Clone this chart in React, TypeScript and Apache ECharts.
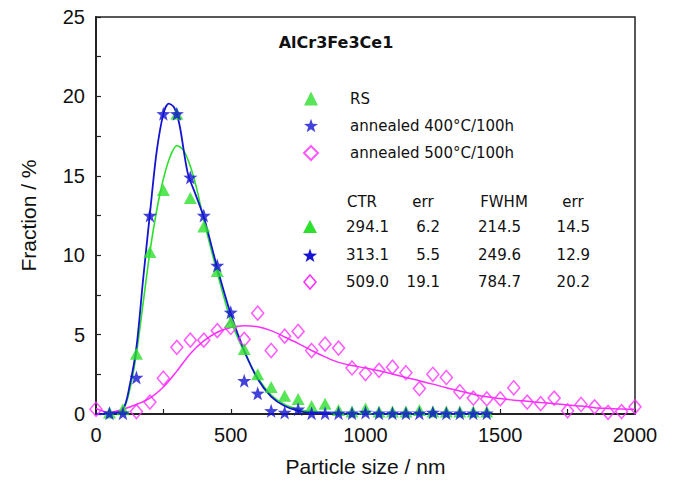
import React, { useEffect, useRef } from "react";
import * as echarts from "echarts";

// ---- data ----
const scatterSizes = [50, 100, 150, 200, 250, 300, 350, 400, 450, 500, 550, 600, 650, 700, 750, 800, 850, 900, 950, 1000, 1050, 1100, 1150, 1200, 1250, 1300, 1350, 1400, 1450];
const rsFraction = [0.1, 0.3, 3.8, 10.2, 14.1, 18.9, 13.6, 11.8, 9.0, 5.8, 4.1, 2.5, 1.7, 1.15, 0.95, 0.5, 0.65, 0.25, 0.15, 0.35, 0.15, 0.15, 0.15, 0.25, 0.15, 0.15, 0.15, 0.15, 0.15];
const a400Fraction = [0.05, 0.05, 2.3, 12.5, 18.9, 18.9, 14.9, 12.5, 9.35, 6.4, 2.1, 1.3, 0.2, 0.1, 0.3, 0.05, 0.05, 0.05, 0.05, 0.1, 0.05, 0.05, 0.05, 0.05, 0.1, 0.05, 0.05, 0.05, 0.05];
const a500Sizes = [0, 150, 200, 250, 300, 350, 400, 450, 500, 550, 600, 650, 700, 750, 800, 850, 900, 950, 1000, 1050, 1100, 1150, 1200, 1250, 1300, 1350, 1400, 1450, 1500, 1550, 1600, 1650, 1700, 1750, 1800, 1850, 1900, 1950, 2000];
const a500Fraction = [0.3, 0.15, 0.75, 2.25, 4.2, 4.65, 4.65, 5.25, 5.45, 4.7, 6.35, 4.0, 4.9, 5.2, 4.0, 4.4, 4.15, 2.9, 2.55, 2.75, 2.95, 2.6, 1.6, 2.5, 2.3, 1.4, 1.0, 0.95, 0.95, 1.65, 0.75, 0.65, 1.0, 0.2, 0.6, 0.45, 0.1, 0.15, 0.45];

const rsFitSizes = [0, 50, 100, 125, 150, 175, 200, 225, 250, 275, 300, 325, 350, 375, 400, 450, 500, 550, 600, 650, 700, 750, 800, 900, 1000, 1200, 1450];
const rsFitValues = [0, 0.02, 0.3, 1.5, 3.8, 7.0, 10.2, 12.8, 14.8, 16.2, 16.9, 16.6, 15.6, 14.1, 12.2, 8.9, 5.9, 3.9, 2.3, 1.2, 0.6, 0.3, 0.15, 0.05, 0.02, 0, 0];
const a400FitSizes = [0, 50, 100, 125, 150, 175, 200, 225, 250, 270, 290, 310, 340, 370, 400, 450, 500, 550, 600, 650, 700, 750, 800, 900, 1000, 1200, 1450];
const a400FitValues = [0, 0, 0.3, 1.8, 4.2, 8.5, 12.6, 16.5, 18.9, 19.55, 19.3, 18.2, 15.2, 13.8, 12.4, 9.2, 6.3, 4.0, 2.2, 1.1, 0.5, 0.2, 0.08, 0.02, 0, 0, 0];
const a500FitSizes = [0, 50, 100, 150, 200, 250, 300, 350, 400, 450, 500, 550, 600, 650, 700, 750, 800, 850, 900, 950, 1000, 1050, 1100, 1150, 1200, 1250, 1300, 1350, 1400, 1450, 1500, 1550, 1600, 1650, 1700, 1750, 1800, 1850, 1900, 1950, 2000];
const a500FitValues = [0.35, 0.1, 0.3, 0.6, 1.0, 1.7, 2.7, 3.8, 4.6, 5.15, 5.45, 5.55, 5.5, 5.25, 4.85, 4.45, 4.0, 3.6, 3.25, 3.05, 2.9, 2.72, 2.52, 2.3, 2.1, 1.88, 1.65, 1.45, 1.25, 1.08, 0.97, 0.87, 0.8, 0.72, 0.65, 0.57, 0.5, 0.4, 0.35, 0.31, 0.3];

const seriesNames = ["RS", "annealed 400\u00B0C/100h", "annealed 500\u00B0C/100h"];
const titleText = "AlCr3Fe3Ce1";
const xAxisName = "Particle size / nm";
const yAxisName = "Fraction / %";
const tableHeader = ["CTR", "err", "FWHM", "err"];
const tableRows = [
  ["294.1", "6.2", "214.5", "14.5"],
  ["313.1", "5.5", "249.6", "12.9"],
  ["509.0", "19.1", "784.7", "20.2"],
];

// ---- styling ----
const GREEN = "#2ee02e";
const BLUE = "#1414d2";
const MAGENTA = "#ff2eff";
const FONT = "DejaVu Sans";
const AXFONT = "Liberation Sans";
const STAR = "path://M0,-10 L2.35,-3.24 L9.51,-3.09 L3.8,1.24 L5.88,8.09 L0,4 L-5.88,8.09 L-3.8,1.24 L-9.51,-3.09 L-2.35,-3.24 Z";

const pairs = (xs: number[], ys: number[]) => xs.map((x, i) => [x, ys[i]]);

function starPoints(cx: number, cy: number, r: number) {
  const pts: number[][] = [];
  for (let i = 0; i < 10; i++) {
    const a = -Math.PI / 2 + (i * Math.PI) / 5;
    const rr = i % 2 === 0 ? r : r * 0.4;
    pts.push([cx + rr * Math.cos(a), cy + rr * Math.sin(a)]);
  }
  return pts;
}

export default function App() {
  const ref = useRef<HTMLDivElement>(null);
  useEffect(() => {
    if (!ref.current) return;
    const chart = echarts.init(ref.current, undefined, { renderer: "svg" });

    const colHeaderCenters = [362, 423, 504, 573];
    const colRight = [389, 440, 521, 590];
    const headerY = 202;
    const rowY = [227, 255, 282];
    const markerX = 310;

    const graphics: any[] = [
      {
        type: "text",
        x: 336,
        y: 42,
        style: { text: titleText, font: `bold 16px "${FONT}"`, fill: "#111", align: "center", verticalAlign: "middle" },
      },
    ];
    tableHeader.forEach((h, i) => {
      graphics.push({
        type: "text",
        x: colHeaderCenters[i],
        y: headerY,
        style: { text: h, font: `15px "${FONT}"`, fill: "#111", align: "center", verticalAlign: "middle" },
      });
    });
    tableRows.forEach((row, r) => {
      row.forEach((v, i) => {
        graphics.push({
          type: "text",
          x: colRight[i],
          y: rowY[r],
          style: { text: v, font: `15px "${FONT}"`, fill: "#111", align: "right", verticalAlign: "middle" },
        });
      });
    });
    // table markers
    graphics.push({
      type: "polygon",
      shape: { points: [[markerX, rowY[0] - 7], [markerX + 7, rowY[0] + 6], [markerX - 7, rowY[0] + 6]] },
      style: { fill: GREEN },
    });
    graphics.push({
      type: "polygon",
      shape: { points: starPoints(markerX, rowY[1] + 1, 7.5) },
      style: { fill: BLUE },
    });
    graphics.push({
      type: "polygon",
      shape: { points: [[markerX, rowY[2] - 7], [markerX + 6, rowY[2]], [markerX, rowY[2] + 7], [markerX - 6, rowY[2]]] },
      style: { fill: "none", stroke: MAGENTA, lineWidth: 1.5 },
    });

    const plain = (v: number) => String(v);

    chart.setOption({
      animation: false,
      backgroundColor: "#fff",
      grid: {
        left: 96,
        right: 39,
        top: 17,
        bottom: 70,
        show: true,
        borderColor: "#222",
        borderWidth: 1.5,
        backgroundColor: "transparent",
      },
      xAxis: {
        type: "value",
        min: 0,
        max: 2000,
        interval: 500,
        name: xAxisName,
        nameLocation: "middle",
        nameGap: 42,
        nameTextStyle: { fontFamily: AXFONT, fontSize: 21, color: "#111" },
        axisLine: { show: true, lineStyle: { color: "#222", width: 2 } },
        axisTick: { show: true, inside: true, length: 5, lineStyle: { color: "#222", width: 1.2 } },
        minorTick: { show: true, splitNumber: 2, length: 5, lineStyle: { color: "#222", width: 1.2 } },
        axisLabel: { fontFamily: AXFONT, fontSize: 20, color: "#111", margin: 11, formatter: plain },
        splitLine: { show: false },
      },
      yAxis: {
        type: "value",
        min: 0,
        max: 25,
        interval: 5,
        name: yAxisName,
        nameLocation: "middle",
        nameGap: 57,
        nameTextStyle: { fontFamily: AXFONT, fontSize: 21, color: "#111" },
        axisLine: { show: true, lineStyle: { color: "#222", width: 2 } },
        axisTick: { show: true, inside: true, length: 5, lineStyle: { color: "#222", width: 1.2 } },
        minorTick: { show: true, splitNumber: 2, length: 5, lineStyle: { color: "#222", width: 1.2 } },
        axisLabel: { fontFamily: AXFONT, fontSize: 20, color: "#111", margin: 11, formatter: plain },
        splitLine: { show: false },
      },
      legend: {
        orient: "vertical",
        left: 298,
        top: 86,
        itemWidth: 14,
        itemHeight: 14,
        itemGap: 12,
        textStyle: { fontFamily: FONT, fontSize: 15, color: "#111", padding: [0, 0, 0, 27] },
        data: seriesNames,
      },
      graphic: graphics,
      series: [
        {
          type: "line",
          data: pairs(rsFitSizes, rsFitValues),
          smooth: 0.3,
          showSymbol: false,
          lineStyle: { color: GREEN, width: 1.6 },
          z: 2,
        },
        {
          type: "line",
          data: pairs(a400FitSizes, a400FitValues),
          smooth: 0.3,
          showSymbol: false,
          lineStyle: { color: BLUE, width: 1.8 },
          z: 2,
        },
        {
          type: "line",
          data: pairs(a500FitSizes, a500FitValues),
          smooth: 0.3,
          showSymbol: false,
          lineStyle: { color: MAGENTA, width: 1.5 },
          z: 2,
        },
        {
          name: seriesNames[0],
          type: "scatter",
          data: pairs(scatterSizes, rsFraction),
          symbol: "triangle",
          symbolSize: [13, 12],
          itemStyle: { color: GREEN },
          z: 4,
        },
        {
          name: seriesNames[1],
          type: "scatter",
          data: pairs(scatterSizes, a400Fraction),
          symbol: STAR,
          symbolSize: 14,
          itemStyle: { color: BLUE },
          z: 5,
        },
        {
          name: seriesNames[2],
          type: "scatter",
          data: pairs(a500Sizes, a500Fraction),
          symbol: "diamond",
          symbolSize: [12, 14],
          itemStyle: { color: "rgba(255,255,255,0)", borderColor: MAGENTA, borderWidth: 1.5 },
          z: 3,
        },
      ],
    });
    return () => chart.dispose();
  }, []);
  return <div ref={ref} style={{ width: 674, height: 484, position: "absolute", left: 0, top: 0 }} />;
}
